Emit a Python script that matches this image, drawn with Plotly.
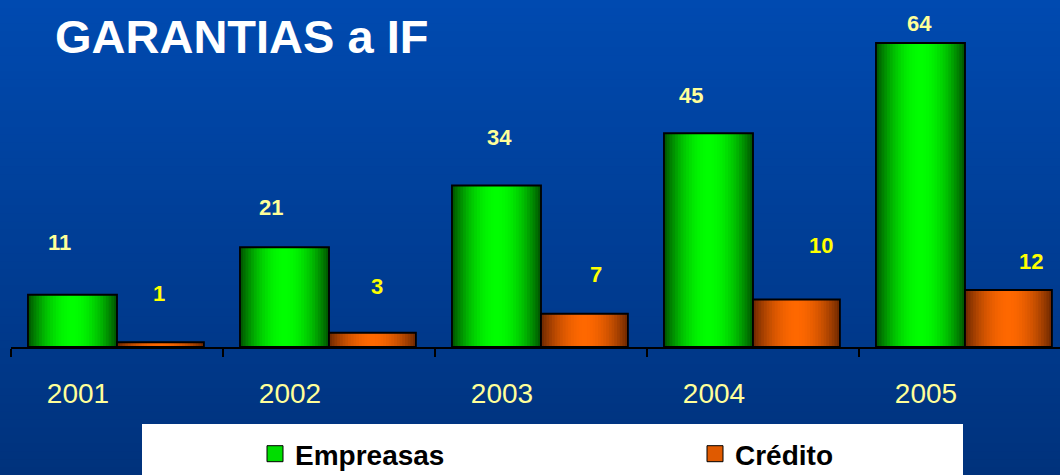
import plotly.graph_objects as go

# data
years = ["2001", "2002", "2003", "2004", "2005"]
empresas = [11, 21, 34, 45, 64]
credito = [1, 3, 7, 10, 12]
series_names = ["Empreasas", "Crédito"]
title_text = "GARANTIAS a IF"

# the value labels were nudged by hand in the original deck (px)
emp_label_dx = [-58, -58, -42, -62, -46]
emp_label_dy = [52, 40, 48, 38, 20]
cre_label_dx = [42, 48, 55, 68, 66]
cre_label_dy = [49, 46, 39, 54, 29]

FONT = "Liberation Sans, Arial, sans-serif"
W, H = 1060, 475
ML, MT, MB = 11, 30, 128
plot_w = W - ML
plot_h = H - MT - MB


def mix(c1, c2, t):
    return "rgb(%d,%d,%d)" % tuple(round(a + (b - a) * t) for a, b in zip(c1, c2))


# fake the horizontal bar gradient with stacked, narrowing bars
N_LAYERS = 16


def add_gradient_bars(fig, y, offset, width, edge, mid):
    for k in range(N_LAYERS):
        h = 1 - k / N_LAYERS
        t = 1 - h ** 2
        w = width * h
        fig.add_trace(go.Bar(
            x=years, y=y, offset=offset + (width - w) / 2, width=w,
            marker=dict(color=mix(edge, mid, t), line=dict(width=0)),
            showlegend=False, hoverinfo="skip",
        ))
    # black outline on top of the layers
    fig.add_trace(go.Bar(
        x=years, y=y, offset=offset, width=width,
        marker=dict(color="rgba(0,0,0,0)", line=dict(color="black", width=1.8)),
        showlegend=False, hoverinfo="skip",
    ))


fig = go.Figure()
add_gradient_bars(fig, empresas, -0.42, 0.42, (0, 90, 0), (0, 255, 0))
add_gradient_bars(fig, credito, 0.0, 0.41, (115, 42, 0), (255, 104, 0))

# legend entries (one legend each, so they can sit where the slide had them)
fig.add_trace(go.Scatter(
    x=[None], y=[None], mode="markers", name=series_names[0], legend="legend",
    marker=dict(symbol="square", size=16, color="#00DD00", line=dict(color="black", width=1)),
))
fig.add_trace(go.Scatter(
    x=[None], y=[None], mode="markers", name=series_names[1], legend="legend2",
    marker=dict(symbol="square", size=16, color="#E05A00", line=dict(color="black", width=1)),
))

annotations = []
for i, (v, dx, dy) in enumerate(zip(empresas, emp_label_dx, emp_label_dy)):
    annotations.append(dict(
        x=i, y=v, xref="x", yref="y", text="<b>%d</b>" % v, showarrow=False,
        xanchor="center", yanchor="middle", xshift=dx, yshift=dy,
        font=dict(family=FONT, size=22, color="#FFFF99"),
    ))
for i, (v, dx, dy) in enumerate(zip(credito, cre_label_dx, cre_label_dy)):
    annotations.append(dict(
        x=i, y=v, xref="x", yref="y", text="<b>%d</b>" % v, showarrow=False,
        xanchor="center", yanchor="middle", xshift=dx, yshift=dy,
        font=dict(family=FONT, size=22, color="#FFFF00"),
    ))


# background: vertical blue gradient as thin bands (paper coords)
def px_to_paper_y(p):
    return (H - MB - p) / plot_h


def px_to_paper_x(q):
    return (q - ML) / plot_w


shapes = []
n_bands = 60
top_c, bot_c = (0, 74, 176), (0, 50, 124)
for i in range(n_bands):
    p0 = H * i / n_bands
    p1 = H * (i + 1) / n_bands + 1
    shapes.append(dict(
        type="rect", xref="paper", yref="paper", layer="below",
        x0=px_to_paper_x(-2), x1=px_to_paper_x(W + 2),
        y0=px_to_paper_y(p1), y1=px_to_paper_y(p0),
        fillcolor=mix(top_c, bot_c, (i + 0.5) / n_bands), line=dict(width=0),
    ))
# white legend panel
shapes.append(dict(
    type="rect", xref="paper", yref="paper", layer="below",
    x0=px_to_paper_x(142), x1=px_to_paper_x(963),
    y0=px_to_paper_y(H + 5), y1=px_to_paper_y(424),
    fillcolor="white", line=dict(width=0),
))

legend_style = dict(
    orientation="h", xanchor="left", yanchor="middle",
    y=px_to_paper_y(454), bgcolor="rgba(0,0,0,0)",
    font=dict(family=FONT, size=28, color="black", weight="bold"),
)

fig.update_layout(
    width=W, height=H, autosize=False,
    margin=dict(l=ML, r=0, t=MT, b=MB, autoexpand=False),
    barmode="overlay",
    paper_bgcolor=mix(top_c, bot_c, 0.5),
    plot_bgcolor="rgba(0,0,0,0)",
    title=dict(
        text=title_text, xref="container", yref="container",
        x=55 / W, xanchor="left", y=1 - 37 / H, yanchor="middle",
        font=dict(family=FONT, size=47, color="white", weight="bold"),
    ),
    xaxis=dict(
        type="category", range=[-0.5, 4.5 - ML / 212],
        showline=True, linecolor="black", linewidth=2,
        ticks="outside", tickson="boundaries", ticklen=8, tickwidth=2, tickcolor="black",
        showgrid=False, zeroline=False,
        tickfont=dict(family=FONT, size=28, color="#FFFF99"),
        ticklabelstandoff=20, ticklabelshift=-39,
    ),
    yaxis=dict(range=[0, plot_h / 4.75], visible=False, showgrid=False, zeroline=False),
    legend=dict(legend_style, x=px_to_paper_x(255)),
    legend2=dict(legend_style, x=px_to_paper_x(695)),
    annotations=annotations,
    shapes=shapes,
    showlegend=True,
)

fig.write_html(
    "out.html",
    config={"displayModeBar": False},
    post_script="document.body.style.margin='0px';",
)
